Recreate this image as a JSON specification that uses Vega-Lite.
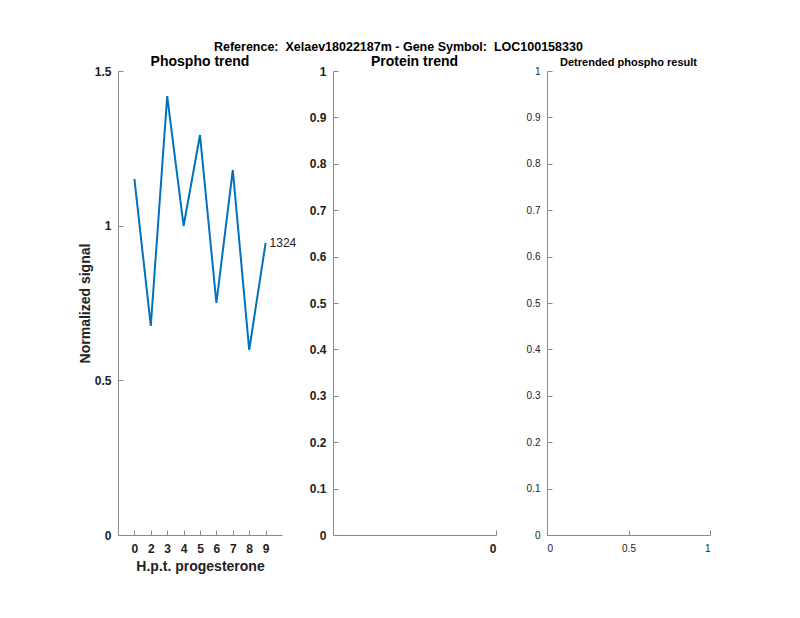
{
  "$schema": "https://vega.github.io/schema/vega-lite/v6.json",
  "background": "white",
  "padding": {"left": 78, "top": 40, "right": 10, "bottom": 10},
  "title": {"text": "Reference: \u00a0Xelaev18022187m - Gene Symbol: \u00a0LOC100158330", "font": "Liberation Sans", "fontSize": 12.5, "fontWeight": "bold", "color": "#000000", "anchor": "middle", "dx": 4, "offset": 2},
  "config": {
    "view": {"stroke": null},
    "font": "Liberation Sans",
    "axis": {"domainColor": "#8a8a8a", "tickColor": "#8a8a8a", "grid": false, "labelColor": "#222222", "titleColor": "#222222", "labelFont": "Liberation Sans", "titleFont": "Liberation Sans", "tickSize": -5, "labelPadding": 12, "domainWidth": 1, "tickWidth": 1, "format": "~g"},
    "title": {"font": "Liberation Sans", "color": "#000000"}
  },
  "hconcat": [
    {
      "width": 164,
      "height": 464,
      "title": {"text": "Phospho trend", "fontSize": 14, "fontWeight": "bold", "offset": -4, "frame": "group"},
      "data": {"values": [
        {"hour": 0, "signal": 1.151, "label": ""},
        {"hour": 2, "signal": 0.676, "label": ""},
        {"hour": 3, "signal": 1.419, "label": ""},
        {"hour": 4, "signal": 0.999, "label": ""},
        {"hour": 5, "signal": 1.293, "label": ""},
        {"hour": 6, "signal": 0.750, "label": ""},
        {"hour": 7, "signal": 1.180, "label": ""},
        {"hour": 8, "signal": 0.598, "label": ""},
        {"hour": 9, "signal": 0.944, "label": "1324"}
      ]},
      "encoding": {
        "x": {"field": "hour", "type": "ordinal", "scale": {"type": "point", "padding": 1}, "sort": null,
              "axis": {"title": "H.p.t. progesterone", "labelAngle": 0, "labelFontSize": 12, "labelFontWeight": "bold", "titleFontSize": 14, "titleFontWeight": "bold", "titlePadding": 5, "labelPadding": 13}},
        "y": {"field": "signal", "type": "quantitative", "scale": {"domain": [0, 1.5], "nice": false, "zero": false},
              "axis": {"title": "Normalized signal", "values": [0, 0.5, 1, 1.5], "labelFontSize": 12, "labelFontWeight": "bold", "titleFontSize": 14, "titleFontWeight": "bold", "titlePadding": 2}}
      },
      "layer": [
        {"mark": {"type": "line", "color": "#0072BD", "strokeWidth": 2}},
        {"mark": {"type": "text", "align": "left", "baseline": "middle", "dx": 4, "fontSize": 12, "color": "#222222"},
         "encoding": {"text": {"field": "label", "type": "nominal"}}}
      ]
    },
    {
      "width": 163,
      "height": 464,
      "title": {"text": "Protein trend", "fontSize": 14, "fontWeight": "bold", "offset": -4, "frame": "group"},
      "data": {"values": []},
      "mark": {"type": "point", "opacity": 0},
      "encoding": {
        "x": {"field": "t", "type": "quantitative", "scale": {"domain": [-1, 0], "nice": false},
              "axis": {"title": null, "values": [0], "labelFontSize": 12, "labelFontWeight": "bold", "labelPadding": 13}},
        "y": {"field": "v", "type": "quantitative", "scale": {"domain": [0, 1], "nice": false},
              "axis": {"title": null, "values": [0, 0.1, 0.2, 0.3, 0.4, 0.5, 0.6, 0.7, 0.8, 0.9, 1], "labelFontSize": 12, "labelFontWeight": "bold"}}
      }
    },
    {
      "width": 163,
      "height": 464,
      "title": {"text": "Detrended phospho result", "fontSize": 11, "fontWeight": "bold", "offset": -2, "frame": "group"},
      "data": {"values": []},
      "mark": {"type": "point", "opacity": 0},
      "encoding": {
        "x": {"field": "t", "type": "quantitative", "scale": {"domain": [0, 1], "nice": false},
              "axis": {"title": null, "values": [0, 0.5, 1], "labelFontSize": 10, "labelFontWeight": "normal", "labelPadding": 13}},
        "y": {"field": "v", "type": "quantitative", "scale": {"domain": [0, 1], "nice": false},
              "axis": {"title": null, "values": [0, 0.1, 0.2, 0.3, 0.4, 0.5, 0.6, 0.7, 0.8, 0.9, 1], "labelFontSize": 10, "labelFontWeight": "normal", "labelPadding": 12}}
      }
    }
  ],
  "spacing": 51,
  "bounds": "flush"
}
